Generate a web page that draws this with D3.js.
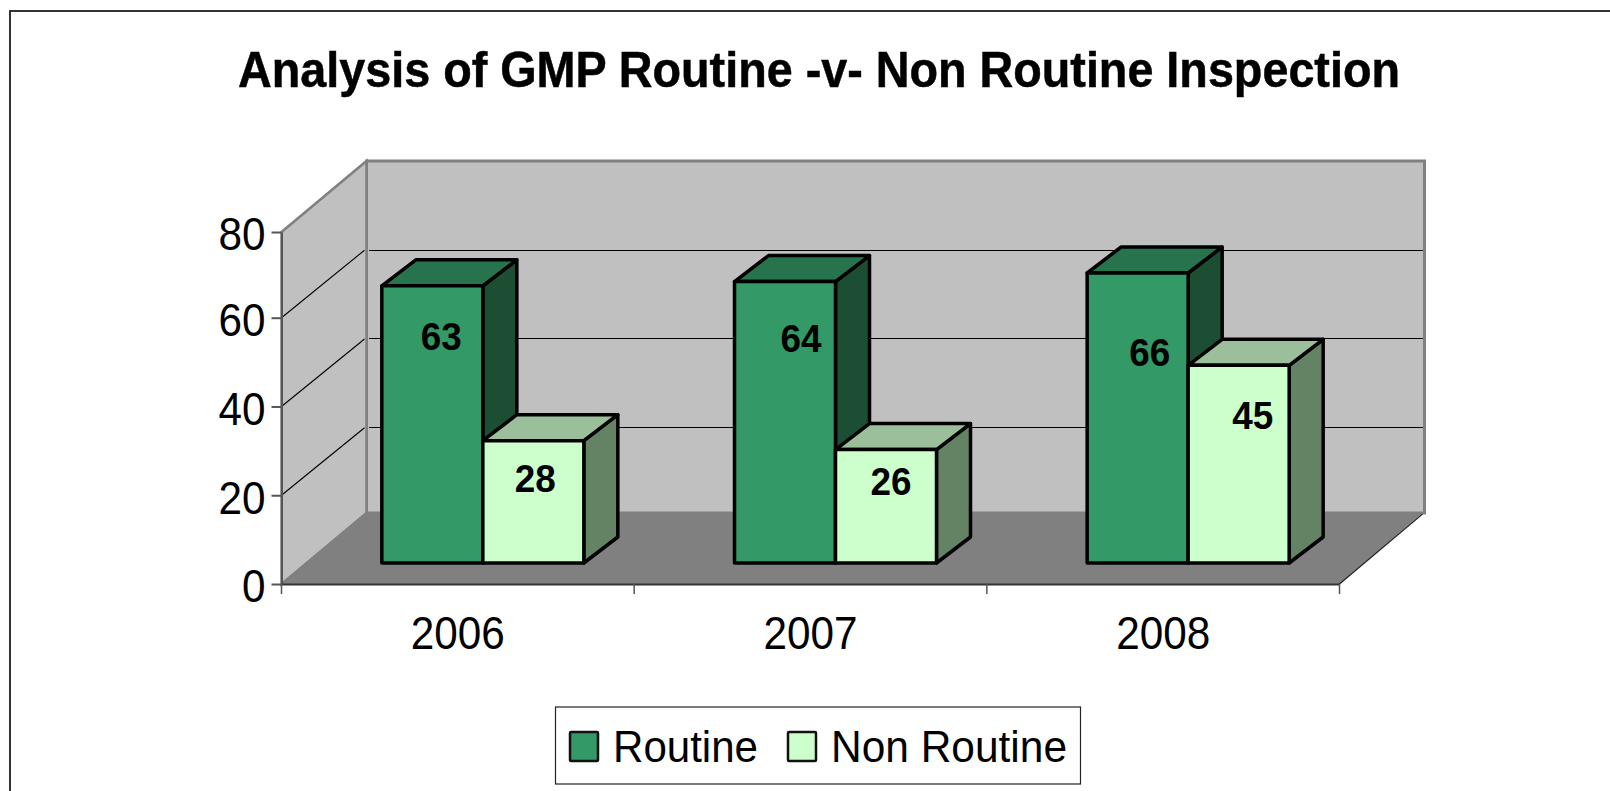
<!DOCTYPE html>
<html>
<head>
<meta charset="utf-8">
<script src="https://cdn.jsdelivr.net/npm/d3@7"></script>
<style>
  body { margin: 0; background: #fff; overflow: hidden; }
  svg { display: block; }
  text { font-family: "Liberation Sans", Arial, sans-serif; fill: #000; }
</style>
</head>
<body>
<svg id="chart" width="1610" height="791"></svg>
<script>
const title = "Analysis of GMP Routine -v- Non Routine Inspection";
const years = ["2006", "2007", "2008"];
const seriesNames = ["Routine", "Non Routine"];
const routine = [63, 64, 66];
const nonRoutine = [28, 26, 45];
const yTicks = [0, 20, 40, 60, 80];

const colors = {
  Routine: { front: "#339966", top: "#26734d", side: "#1c4e34" },
  "Non Routine": { front: "#ccffcc", top: "#9bbf9b", side: "#648264" },
};

// the labels in the original were dragged by hand, so each one has its own nudge
// [x, y] from the top centre of the bar's front face
const labelNudge = {
  "Routine 2006": [9, 52],
  "Routine 2007": [16, 58],
  "Routine 2008": [12, 81],
  "Non Routine 2006": [2, 39],
  "Non Routine 2007": [5, 33],
  "Non Routine 2008": [14, 52],
};

const svg = d3.select("#chart");

// front edge of the box
const x = d3.scaleBand().domain(years).range([281.5, 1339.5]);
// the top step of the original axis is a little shorter than the others
const y = d3.scaleLinear().domain([0, 60, 80]).range([584, 317.7, 232]);

// how far the back wall sits from the front edge
const depthX = 85;
const depthY = -71;
const gridDepthY = -67.5;
// how far the bars sit in from the front edge
const inX = 25;
const inY = -21;
// how far a bar goes back
const barX = 34;
const barY = -26;

const groupWidth = 202;
const inner = d3.scaleBand().domain(seriesNames).range([0, groupWidth]);

const poly = (pts) => "M" + pts.map((p) => p.join(",")).join("L") + "Z";

// the frame has no right or bottom side in the picture
svg
  .append("path")
  .attr("d", "M10,791V11H1610")
  .attr("fill", "none")
  .attr("stroke", "#333")
  .attr("stroke-width", 2);

svg
  .append("text")
  .attr("x", 819)
  .attr("y", 87)
  .attr("text-anchor", "middle")
  .attr("font-size", 50)
  .attr("font-weight", "bold")
  .attr("stroke", "#000")
  .attr("stroke-width", 0.5)
  .attr("textLength", 1162)
  .attr("lengthAdjust", "spacingAndGlyphs")
  .text(title);

const x0 = x.range()[0];
const x1 = x.range()[1];
const y0 = y(0);
const yTop = y(80);

// walls and floor
svg
  .append("path")
  .attr("d", poly([[x0 + depthX, yTop + depthY], [x1 + depthX, yTop + depthY], [x1 + depthX, y0 + depthY], [x0 + depthX, y0 + depthY]]))
  .attr("fill", "#c0c0c0")
  .attr("stroke", "#808080")
  .attr("stroke-width", 3);

svg
  .append("path")
  .attr("d", poly([[x0, yTop], [x0 + depthX, yTop + depthY], [x0 + depthX, y0 + depthY], [x0, y0]]))
  .attr("fill", "#c0c0c0")
  .attr("stroke", "#808080")
  .attr("stroke-width", 2.5);

svg
  .append("path")
  .attr("d", poly([[x0, y0], [x0 + depthX, y0 + depthY], [x1 + depthX - 2, y0 + depthY], [x1, y0]]))
  .attr("fill", "#808080");

// gridlines run along the side wall then the back wall
const gridTicks = yTicks.filter((d) => d > 0 && d < 80);

svg
  .append("g")
  .selectAll("line")
  .data(gridTicks)
  .enter()
  .append("line")
  .attr("x1", x0)
  .attr("y1", (d) => y(d))
  .attr("x2", x0 + depthX - 2)
  .attr("y2", (d) => y(d) + gridDepthY)
  .attr("stroke", "#000")
  .attr("stroke-width", 1.1);

svg
  .append("g")
  .selectAll("line")
  .data(gridTicks)
  .enter()
  .append("line")
  .attr("x1", x0 + depthX + 2)
  .attr("y1", (d) => y(d) + gridDepthY)
  .attr("x2", x1 + depthX - 2)
  .attr("y2", (d) => y(d) + gridDepthY)
  .attr("stroke", "#000")
  .attr("stroke-width", 1)
  .attr("shape-rendering", "crispEdges");

// outer edge of the floor
svg
  .append("line")
  .attr("x1", x1)
  .attr("y1", y0)
  .attr("x2", x1 + depthX - 2)
  .attr("y2", y0 + depthY + 1)
  .attr("stroke", "#222")
  .attr("stroke-width", 1.2);

// axes
const yAxis = svg
  .append("g")
  .attr("transform", `translate(${x0},0)`)
  .call(d3.axisLeft(y).tickValues(yTicks).tickSize(10).tickPadding(6).tickSizeOuter(0));
yAxis.select(".domain").attr("stroke", "#555").attr("stroke-width", 2);
yAxis.selectAll(".tick line").attr("stroke", "#555").attr("stroke-width", 2);
yAxis
  .selectAll("text")
  .attr("font-size", 47)
  .attr("dy", "0.38em")
  .attr("textLength", (d) => String(d).length * 23.5)
  .attr("lengthAdjust", "spacingAndGlyphs");

const xAxis = svg
  .append("g")
  .attr("transform", `translate(0,${y0})`)
  .call(d3.axisBottom(x).tickSize(0).tickPadding(32).tickSizeOuter(0));
xAxis.select(".domain").attr("stroke", "#333").attr("stroke-width", 2);
xAxis
  .selectAll("text")
  .attr("font-size", 46)
  .attr("textLength", 94)
  .attr("lengthAdjust", "spacingAndGlyphs");

// category separators on the x axis
svg
  .append("g")
  .selectAll("line")
  .data(years.concat(["end"]))
  .enter()
  .append("line")
  .attr("x1", (d) => (d === "end" ? x1 : x(d)))
  .attr("x2", (d) => (d === "end" ? x1 : x(d)))
  .attr("y1", y0)
  .attr("y2", y0 + 10)
  .attr("stroke", "#555")
  .attr("stroke-width", 1.5);

// bars
const bars = [];
years.forEach((year, i) => {
  bars.push({ year, name: "Routine", value: routine[i] });
  bars.push({ year, name: "Non Routine", value: nonRoutine[i] });
});

// bars come out about 2px short of the axis in the original
const barHeight = (v) => y(0) - y(v) - 2;
const w = inner.bandwidth();

const block = svg
  .append("g")
  .selectAll("g")
  .data(bars)
  .enter()
  .append("g")
  .attr("transform", (d) => {
    const left = x(d.year) + (x.bandwidth() - groupWidth) / 2 + inX + inner(d.name);
    return `translate(${left},${y0 + inY})`;
  });

block
  .append("path")
  .attr("d", (d) => {
    const h = barHeight(d.value);
    return poly([[w, 0], [w + barX, barY], [w + barX, -h + barY], [w, -h]]);
  })
  .attr("fill", (d) => colors[d.name].side);

block
  .append("path")
  .attr("d", (d) => {
    const h = barHeight(d.value);
    return poly([[0, -h], [barX, -h + barY], [w + barX, -h + barY], [w, -h]]);
  })
  .attr("fill", (d) => colors[d.name].top);

block
  .append("rect")
  .attr("x", 0)
  .attr("y", (d) => -barHeight(d.value))
  .attr("width", w)
  .attr("height", (d) => barHeight(d.value))
  .attr("fill", (d) => colors[d.name].front);

block
  .selectAll("path, rect")
  .attr("stroke", "#000")
  .attr("stroke-width", 3.5)
  .attr("stroke-linejoin", "round");

block
  .append("text")
  .attr("x", (d) => w / 2 + labelNudge[d.name + " " + d.year][0])
  .attr("y", (d) => -barHeight(d.value) + labelNudge[d.name + " " + d.year][1] + 12)
  .attr("text-anchor", "middle")
  .attr("font-size", 39)
  .attr("font-weight", "bold")
  .attr("textLength", 41)
  .attr("lengthAdjust", "spacingAndGlyphs")
  .text((d) => d.value);

// legend
svg
  .append("rect")
  .attr("x", 555.5)
  .attr("y", 707)
  .attr("width", 525)
  .attr("height", 77)
  .attr("fill", "#fff")
  .attr("stroke", "#222")
  .attr("stroke-width", 1.2);

const legendX = d3.scaleOrdinal().domain(seriesNames).range([570, 788]);

const legend = svg
  .append("g")
  .selectAll("g")
  .data(seriesNames)
  .enter()
  .append("g")
  .attr("transform", (d) => `translate(${legendX(d)},732)`);

legend
  .append("rect")
  .attr("width", 28)
  .attr("height", 29)
  .attr("rx", 1)
  .attr("fill", (d) => colors[d].front)
  .attr("stroke", "#111")
  .attr("stroke-width", 2.5);

legend
  .append("text")
  .attr("x", 43)
  .attr("y", 30)
  .attr("font-size", 45)
  .attr("textLength", (d) => (d === "Routine" ? 145 : 236))
  .attr("lengthAdjust", "spacingAndGlyphs")
  .text((d) => d);
</script>
</body>
</html>
